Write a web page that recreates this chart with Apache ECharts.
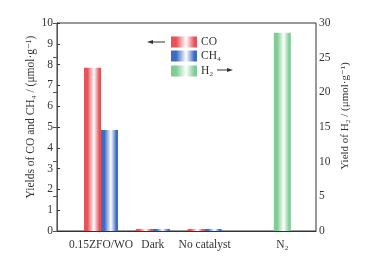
<!DOCTYPE html>
<html>
<head>
<meta charset="utf-8">
<script src="https://cdn.jsdelivr.net/npm/echarts@6/dist/echarts.min.js"></script>
<style>
  html, body { margin: 0; padding: 0; background: #fff; }
  #main { width: 368px; height: 262px; }
</style>
</head>
<body>
<div id="main"></div>
<script>
// 类别及其在横轴上的位置
var categories = ['0.15ZFO/WO', 'Dark', 'No catalyst', 'N₂'];
var catPos = [1.7, 3.7, 5.7, 8.7];
// 左轴数据 (μmol·g-1)
var coValues = [7.85, 0.1, 0.1];
var ch4Values = [4.85, 0.1, 0.1];
// 右轴数据
var h2Values = [28.6];
var h2Pos = [8.7];

var leftTicks = { min: 0, max: 10, interval: 1 };
var rightTicks = { min: 0, max: 30, interval: 5 };

var font = '"Liberation Serif", "DejaVu Serif", serif';
var txt = '#333';

function stripe(c) {
    return new echarts.graphic.LinearGradient(0, 0, 1, 0, [
        { offset: 0, color: c },
        { offset: 0.2, color: c },
        { offset: 0.58, color: '#ffffff' },
        { offset: 0.9, color: c },
        { offset: 1, color: c }
    ]);
}
function pairs(xs, ys) {
    var out = [];
    for (var i = 0; i < ys.length; i++) out.push([xs[i], ys[i]]);
    return out;
}

var myChart = echarts.init(document.getElementById('main'));
var option = {
    animation: false,
    textStyle: { fontFamily: font, color: txt },
    grid: { left: 57, right: 52, top: 23, bottom: 31, show: true, borderColor: '#333', borderWidth: 1 },
    legend: [{
        orient: 'vertical', left: 166, top: 31, itemWidth: 26, itemHeight: 11, itemGap: 2,
        icon: 'rect',
        data: ['CO', 'CH₄'],
        textStyle: { fontFamily: font, fontSize: 11.5, color: txt, padding: [0, 0, 0, -1] }
    }, {
        orient: 'vertical', left: 166, top: 60, itemWidth: 26, itemHeight: 11,
        icon: 'rect',
        data: ['H₂'],
        textStyle: { fontFamily: font, fontSize: 11.5, color: txt, padding: [0, 0, 0, -1] }
    }],
    xAxis: [{
        type: 'value', min: 0, max: 10,
        splitLine: { show: false },
        axisLine: { lineStyle: { color: '#333' } },
        axisTick: { show: false },
        axisLabel: {
            customValues: catPos, margin: 8, fontFamily: font, fontSize: 11.5, color: txt,
            formatter: function (v) {
                var i = catPos.indexOf(v);
                return i >= 0 ? categories[i] : '';
            }
        }
    }, {
        type: 'value', min: 0, max: 10, show: false, position: 'top'
    }],
    yAxis: [{
        type: 'value', min: leftTicks.min, max: leftTicks.max, interval: leftTicks.interval,
        splitLine: { show: false },
        axisLine: { show: true, lineStyle: { color: '#333' } },
        axisTick: { show: true, inside: true, length: 3, lineStyle: { color: '#333' } },
        axisLabel: { margin: 4, fontFamily: font, fontSize: 11.5, color: txt },
        name: 'Yields of CO and CH₄ / (μmol·g⁻¹)',
        nameLocation: 'middle', nameGap: 20, nameRotate: 90, nameMoveOverlap: false,
        nameTextStyle: { fontFamily: font, fontSize: 11.5, color: txt, padding: [0, 0, 0, 20] }
    }, {
        type: 'value', min: rightTicks.min, max: rightTicks.max, interval: rightTicks.interval,
        position: 'right',
        splitLine: { show: false },
        axisLine: { show: true, lineStyle: { color: '#555' } },
        axisTick: { show: true, inside: true, length: 4, lineStyle: { color: '#555' } },
        axisLabel: { margin: 3, fontFamily: font, fontSize: 11.5, color: txt },
        name: 'Yield of H₂ / (μmol·g⁻¹)',
        nameLocation: 'middle', nameGap: 24, nameRotate: 90, nameMoveOverlap: false,
        nameTextStyle: { fontFamily: font, fontSize: 11, color: txt, padding: [0, 0, 0, 22] }
    }],
    series: [{
        name: 'CO', type: 'bar', xAxisIndex: 0, yAxisIndex: 0,
        barWidth: 17, barGap: '0%',
        itemStyle: { color: stripe('#e8505a') },
        data: pairs(catPos, coValues)
    }, {
        name: 'CH₄', type: 'bar', xAxisIndex: 0, yAxisIndex: 0,
        barWidth: 17, barGap: '0%',
        itemStyle: { color: stripe('#3b6cc2') },
        data: pairs(catPos, ch4Values)
    }, {
        name: 'H₂', type: 'bar', xAxisIndex: 1, yAxisIndex: 1,
        barWidth: 17,
        itemStyle: { color: stripe('#7fcc95') },
        data: pairs(h2Pos, h2Values)
    }],
    graphic: [
        { type: 'line', shape: { x1: 151, y1: 42, x2: 165, y2: 42 }, style: { stroke: '#333', lineWidth: 1 } },
        { type: 'polygon', shape: { points: [[147, 42], [153, 40], [153, 44]] }, style: { fill: '#333' } },
        { type: 'line', shape: { x1: 217, y1: 70, x2: 229, y2: 70 }, style: { stroke: '#333', lineWidth: 1 } },
        { type: 'polygon', shape: { points: [[233, 70], [227, 68], [227, 72]] }, style: { fill: '#333' } }
    ]
};
myChart.setOption(option);
window.addEventListener('resize', function () { myChart.resize(); });
</script>
</body>
</html>
